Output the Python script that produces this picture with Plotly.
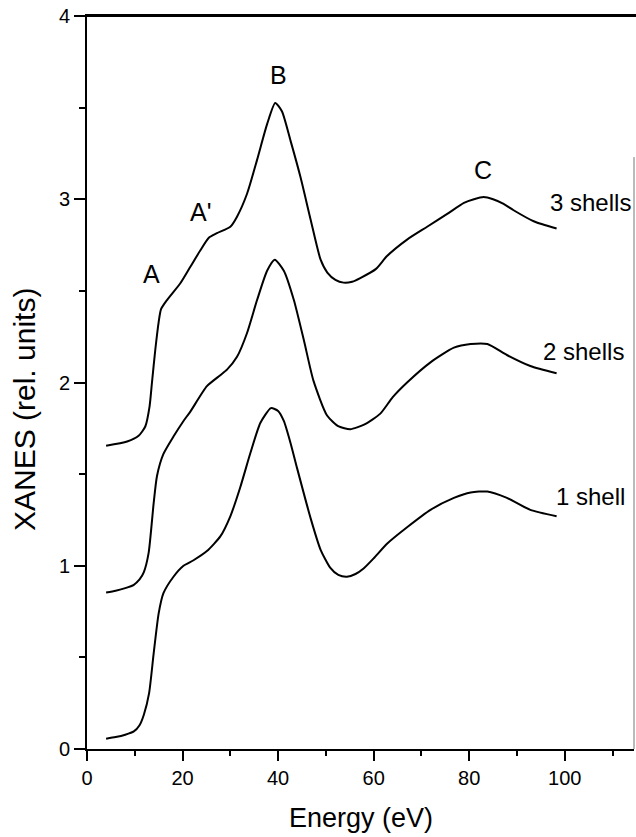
import plotly.graph_objects as go

# ---- data ----
shell1_x = [4, 6, 8, 9.8, 11, 11.9, 13.0, 13.95, 15.0, 16.0, 18.1, 20.2, 22.3, 25.1, 27.9, 30.0,
            32.1, 34.2, 36.3, 38.5, 40.0, 41.2, 42.6, 44.0, 46.8, 48.9, 50.9, 52.6, 54.4, 56.2,
            57.9, 60.0, 62.8, 67.0, 71.9, 76.8, 80.3, 83.8, 87.9, 92.8, 98.3]
shell1_y = [0.056, 0.065, 0.078, 0.096, 0.13, 0.187, 0.305, 0.52, 0.74, 0.85, 0.94, 1.0, 1.03,
            1.08, 1.16, 1.27, 1.43, 1.615, 1.78, 1.86, 1.845, 1.79, 1.67, 1.53, 1.26, 1.087, 0.99,
            0.95, 0.94, 0.955, 0.985, 1.04, 1.12, 1.21, 1.305, 1.37, 1.40, 1.405, 1.37, 1.305, 1.27]

shell2_x = [4, 6, 8, 9.8, 11, 11.9, 12.9, 13.95, 14.65, 16.0, 18.1, 20.2, 21.6, 25.1, 27.9, 29.3,
            31.4, 33.5, 35.6, 37.7, 39.3, 41.2, 43.3, 45.4, 47.4, 50.25, 52.7, 55.1, 58.0, 61.4,
            64.0, 67.0, 71.9, 76.8, 80.3, 83.8, 87.9, 92.8, 98.3]
shell2_y = [0.854, 0.864, 0.878, 0.896, 0.925, 0.965, 1.07, 1.34, 1.49, 1.61, 1.705, 1.79, 1.84,
            1.98, 2.04, 2.07, 2.14, 2.27, 2.45, 2.61, 2.67, 2.61, 2.45, 2.23, 2.01, 1.82, 1.76,
            1.745, 1.77, 1.83, 1.92, 2.0, 2.11, 2.19, 2.21, 2.21, 2.15, 2.09, 2.05]

shell3_x = [4, 8.4, 10.8, 12.2, 13.1, 13.6, 14.3, 15.0, 15.5, 16.75, 19.5, 21.6, 23.7, 25.5, 27.2,
            30.0, 31.4, 33.5, 35.6, 37.7, 39.4, 40.8, 42.6, 44.7, 46.8, 48.9, 50.3, 52.0, 53.7,
            55.5, 57.2, 60.5, 62.8, 67.0, 71.2, 75.4, 78.9, 81.0, 83.0, 85.0, 87.2, 89.3, 93.5, 98.3]
shell3_y = [1.655, 1.678, 1.709, 1.76, 1.87, 2.0, 2.18, 2.33, 2.40, 2.45, 2.54, 2.63, 2.72, 2.79,
            2.815, 2.85, 2.905, 3.03, 3.215, 3.41, 3.525, 3.48, 3.32, 3.12, 2.89, 2.67, 2.60,
            2.56, 2.545, 2.55, 2.57, 2.62, 2.69, 2.78, 2.85, 2.92, 2.98, 3.0, 3.012, 3.0, 2.975,
            2.94, 2.88, 2.84]

peak_labels = ["A", "A'", "B", "C"]
peak_x = [13.6, 23.7, 40.1, 82.8]
peak_y = [2.59, 2.93, 3.68, 3.16]

curve_labels = ["3 shells", "2 shells", "1 shell"]
curve_label_x = [105.4, 104.0, 105.4]
curve_label_y = [2.98, 2.17, 1.38]

FONT = "Liberation Sans, Arial, Helvetica, sans-serif"

fig = go.Figure()
for xs, ys in [(shell1_x, shell1_y), (shell2_x, shell2_y), (shell3_x, shell3_y)]:
    fig.add_trace(go.Scatter(x=xs, y=ys, mode="lines",
                             line=dict(color="black", width=2, shape="spline", smoothing=0.6),
                             showlegend=False, hoverinfo="skip"))

for t, x, y in zip(peak_labels, peak_x, peak_y):
    fig.add_annotation(x=x, y=y, text=t, showarrow=False,
                       font=dict(family=FONT, size=25, color="black"))
for t, x, y in zip(curve_labels, curve_label_x, curve_label_y):
    fig.add_annotation(x=x, y=y, text=t, showarrow=False,
                       font=dict(family=FONT, size=24, color="black"))

# axis titles
fig.add_annotation(xref="paper", yref="paper", x=-0.1133, y=0.4625, text="XANES (rel. units)",
                   textangle=-90, showarrow=False, xanchor="center", yanchor="middle",
                   font=dict(family=FONT, size=30, color="black"))
fig.add_annotation(xref="paper", yref="paper", x=0.5, y=-0.094, text="Energy (eV)",
                   showarrow=False, xanchor="center", yanchor="middle",
                   font=dict(family=FONT, size=27, color="black"))

# top border (full width) and partial right border
fig.add_shape(type="line", xref="paper", yref="paper", x0=-0.002, x1=1.01, y0=1.0007, y1=1.0007,
              line=dict(color="black", width=3), layer="above")
fig.add_shape(type="line", xref="paper", yref="y", x0=1, x1=1, y0=0, y1=3.23,
              line=dict(color="#777777", width=1))

fig.update_layout(
    width=636, height=837,
    margin=dict(l=87, r=2, t=16, b=88),
    plot_bgcolor="white", paper_bgcolor="white",
    font=dict(family=FONT, size=20, color="black"),
)
fig.update_xaxes(range=[0, 114.5], tickvals=[0, 20, 40, 60, 80, 100],
                 ticks="outside", ticklen=10, tickwidth=2, tickcolor="black",
                 minor=dict(tickvals=[10, 30, 50, 70, 90, 110], ticks="outside", ticklen=5,
                            tickwidth=1.5, tickcolor="black"),
                 showline=True, linewidth=2, linecolor="black", mirror=True,
                 showgrid=False, zeroline=False,
                 tickfont=dict(family=FONT, size=20))
fig.update_yaxes(range=[0, 4], tickvals=[0, 1, 2, 3, 4],
                 ticks="outside", ticklen=11, tickwidth=2, tickcolor="black",
                 minor=dict(tickvals=[0.5, 1.5, 2.5, 3.5], ticks="outside", ticklen=6,
                            tickwidth=1.5, tickcolor="black"),
                 showline=True, linewidth=2, linecolor="black",
                 showgrid=False, zeroline=False,
                 tickfont=dict(family=FONT, size=20))

# remove the browser's default 8px body margin so the figure fills the window exactly
fig.write_html("out.html", config={"displayModeBar": False},
               post_script="document.body.style.margin='0';document.body.style.overflow='hidden';")
